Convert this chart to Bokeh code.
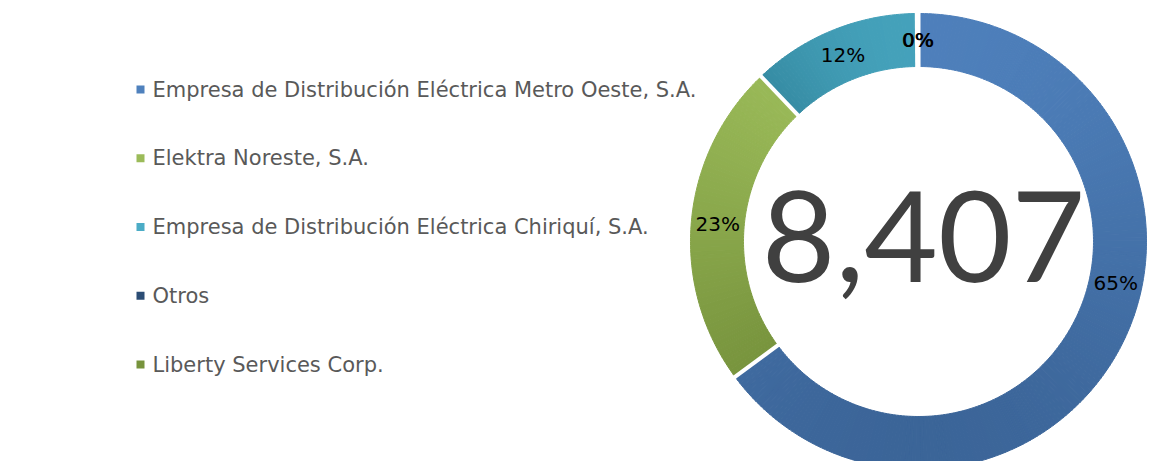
import math
from bokeh.plotting import figure
from bokeh.models import Range1d, ColumnDataSource
from bokeh.core.properties import value
from bokeh.embed import file_html
from bokeh.resources import INLINE

# ---------------- data ----------------
categories = [
    "Empresa de Distribución Eléctrica Metro Oeste, S.A.",
    "Elektra Noreste, S.A.",
    "Empresa de Distribución Eléctrica Chiriquí, S.A.",
    "Otros",
    "Liberty Services Corp.",
]
values = [5455, 1933, 1009, 7, 3]

# ---------------- styles ----------------
top_colors = ["#4F81BD", "#9BBB59", "#4BACC6", "#2C4D75", "#77933C"]
bottom_colors = ["#3A6396", "#76923C", "#31849B", "#1F3A5C", "#5E752F"]
legend_colors = ["#4F81BD", "#9BBB59", "#4BACC6", "#2C4D75", "#77933C"]
FONT = "DejaVu Sans"
NUM_FONT = "Lato"

W, H = 1155, 461
CX, CY = 918, 241          # donut centre (page px)
R_OUT, R_IN = 228, 175
LABEL_SHIFT_DEG = [-15, 0, 0, 0, 0]


def dx(xp):
    return xp


def dy(yp):
    return H - yp


def hex_to_rgb(h):
    h = h.lstrip("#")
    return tuple(int(h[i:i + 2], 16) for i in (0, 2, 4))


def lerp_color(c1, c2, t):
    a, b = hex_to_rgb(c1), hex_to_rgb(c2)
    return "#%02x%02x%02x" % tuple(int(round(a[i] + (b[i] - a[i]) * t)) for i in range(3))


p = figure(width=W, height=H, x_range=Range1d(0, W), y_range=Range1d(0, H),
           output_backend="svg", toolbar_location=None,
           x_axis_type=None, y_axis_type=None, min_border=0,
           outline_line_color=None)
p.grid.visible = False
p.background_fill_color = "white"
p.border_fill_color = "white"

total = sum(values)
cum = [0.0]
for v in values:
    cum.append(cum[-1] + v / total * 360.0)

# ---------- gradient slices drawn as thin sub-wedges ----------
xs, ys, sa, ea, cols = [], [], [], [], []
for i, v in enumerate(values):
    t0, t1 = cum[i], cum[i + 1]
    span = t1 - t0
    if span <= 0:
        continue
    samples = [t0 + span * k / 60.0 for k in range(61)]
    yvals = []
    for th in samples:
        for r in (R_IN, R_OUT):
            yvals.append(CY - r * math.cos(math.radians(th)))
    ymin, ymax = min(yvals), max(yvals)
    n = max(1, int(math.ceil(span / 1.0)))
    for k in range(n):
        a = t0 + span * k / n
        b = t0 + span * (k + 1) / n
        m = (a + b) / 2
        ym = CY - (R_IN + R_OUT) / 2 * math.cos(math.radians(m))
        t = (ym - ymin) / (ymax - ymin) if ymax > ymin else 0
        xs.append(dx(CX))
        ys.append(dy(CY))
        sa.append(math.pi / 2 - math.radians(a))
        ea.append(math.pi / 2 - math.radians(b))
        cols.append(lerp_color(top_colors[i], bottom_colors[i], t))

src = ColumnDataSource(dict(x=xs, y=ys, s=sa, e=ea, c=cols))
p.annular_wedge(x="x", y="y", inner_radius=R_IN, outer_radius=R_OUT,
                start_angle="s", end_angle="e", direction="clock",
                fill_color="c", line_color="c", line_width=1, source=src)

# ---------- white separators ----------
bnd = sorted(set(round(c % 360.0, 6) for c in cum))
sx0, sy0, sx1, sy1 = [], [], [], []
for th in bnd:
    rad = math.radians(th)
    sx0.append(dx(CX + (R_IN - 3) * math.sin(rad)))
    sy0.append(dy(CY - (R_IN - 3) * math.cos(rad)))
    sx1.append(dx(CX + (R_OUT + 3) * math.sin(rad)))
    sy1.append(dy(CY - (R_OUT + 3) * math.cos(rad)))
p.segment(x0=sx0, y0=sy0, x1=sx1, y1=sy1, line_color="white", line_width=4)

# ---------- percentage labels ----------
lx, ly, lt = [], [], []
R_LAB = (R_IN + R_OUT) / 2
for i, v in enumerate(values):
    mid = (cum[i] + cum[i + 1]) / 2 + LABEL_SHIFT_DEG[i]
    rad = math.radians(mid)
    lx.append(dx(CX + R_LAB * math.sin(rad)))
    ly.append(dy(CY - R_LAB * math.cos(rad)))
    lt.append("%d%%" % round(v / total * 100))
p.text(x=lx, y=ly, text=lt, text_font=value(FONT), text_font_size="20px",
       text_color="black", text_align="center", text_baseline="middle")

# ---------- centre total ----------
p.text(x=[dx(CX + 5)], y=[dy(CY - 5)], text=["{:,}".format(total)],
       text_font=value(NUM_FONT), text_font_size="127px", text_color="#404040",
       text_align="center", text_baseline="middle")

# ---------- legend ----------
ROW0, ROW_STEP = 89, 68.75
mx = [dx(140)] * len(categories)
my = [dy(ROW0 + i * ROW_STEP) for i in range(len(categories))]
p.scatter(x=mx, y=my, marker="square", size=8, fill_color=legend_colors,
          line_color=None)
p.text(x=[dx(152)] * len(categories), y=my, text=categories,
       text_font=value(FONT), text_font_size="21px", text_color="#595959",
       text_align="left", text_baseline="middle")

open("out.html", "w").write(file_html(p, INLINE))
